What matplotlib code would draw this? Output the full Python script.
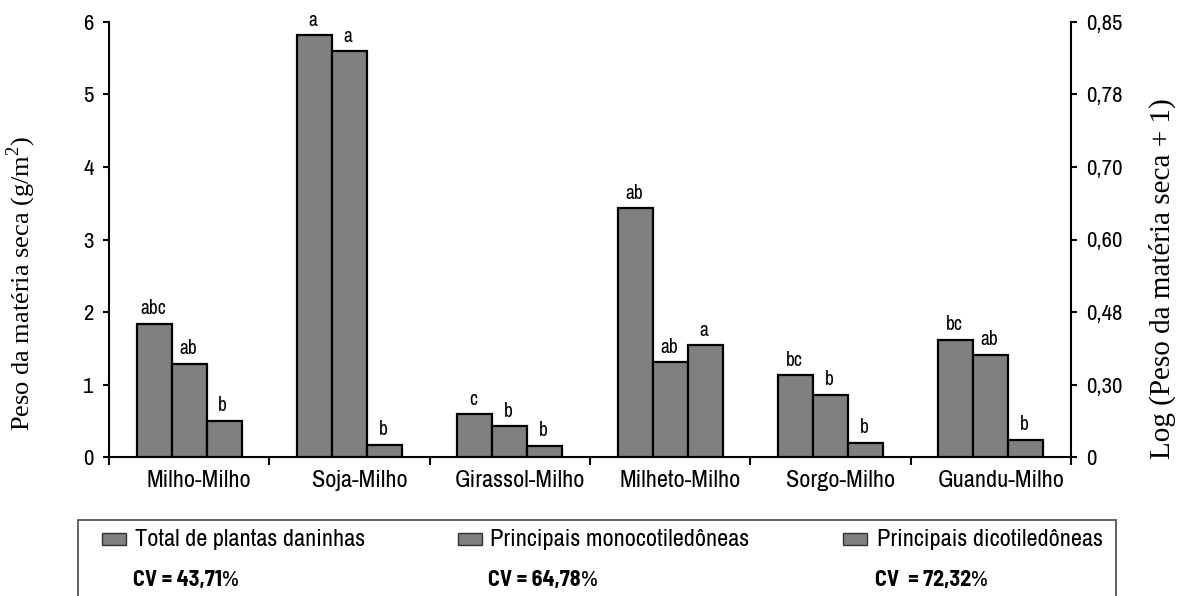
import matplotlib
matplotlib.use('Agg')
import matplotlib.pyplot as plt
from matplotlib.patches import Rectangle
from matplotlib.transforms import ScaledTranslation
import numpy as np

# data
categories = ['Milho-Milho', 'Soja-Milho', 'Girassol-Milho', 'Milheto-Milho', 'Sorgo-Milho', 'Guandu-Milho']
total = [1.84, 5.81, 0.59, 3.43, 1.13, 1.62]
mono = [1.29, 5.59, 0.43, 1.31, 0.86, 1.41]
dico = [0.50, 0.17, 0.155, 1.54, 0.20, 0.24]
letters_total = ['abc', 'a', 'c', 'ab', 'bc', 'bc']
letters_mono = ['ab', 'a', 'b', 'ab', 'b', 'ab']
letters_dico = ['b', 'b', 'b', 'a', 'b', 'b']
series_names = ['Total de plantas daninhas', 'Principais monocotiledôneas', 'Principais dicotiledôneas']
cv_values = ['CV = 43,71', 'CV = 64,78', 'CV  = 72,32']
left_ticks = [0, 1, 2, 3, 4, 5, 6]
right_labels = ['0', '0,30', '0,48', '0,60', '0,70', '0,78', '0,85']

SANS = ['Archivo Narrow', 'Roboto Condensed', 'DejaVu Sans']
SANS_BOLD = ['Barlow Semi Condensed', 'Roboto Condensed', 'DejaVu Sans']
SERIF = ['Liberation Serif', 'DejaVu Serif']
BAR_COLOR = '#808080'

plt.rcParams['mathtext.fontset'] = 'custom'
plt.rcParams['mathtext.rm'] = 'Liberation Serif'

W, H = 1178, 596
fig = plt.figure(figsize=(W / 100, H / 100), dpi=100)
ax = fig.add_axes([109 / W, (H - 457.3) / H, 962 / W, 435.6 / H])

x = np.arange(len(categories)) + 0.5
bw = 0.218
for offs, vals, labs in [(-bw, total, letters_total), (0, mono, letters_mono), (bw, dico, letters_dico)]:
    bars = ax.bar(x + offs, vals, width=bw, color=BAR_COLOR, edgecolor='black', linewidth=1.6, zorder=3)
    for b, lab in zip(bars, labs):
        ax.annotate(lab, (b.get_x() + b.get_width() / 2, b.get_height()),
                    xytext=(-1, 4), textcoords='offset points', ha='center', va='bottom',
                    fontsize=14, family=SANS)

ax.set_xlim(0, len(categories))
ax.set_ylim(0, 6)

for side in ['top', 'right']:
    ax.spines[side].set_visible(False)
for side in ['left', 'bottom']:
    ax.spines[side].set_linewidth(1.5)

# x axis: ticks at group boundaries, labels centred (a bit right, as in the source)
ax.set_xticks(np.arange(len(categories) + 1))
ax.set_xticklabels([])
ax.set_xticks(x, minor=True)
ax.set_xticklabels(categories, minor=True, fontsize=17.5, family=SANS)
ax.tick_params(axis='x', which='major', direction='out', length=6, width=1.5)
ax.tick_params(axis='x', which='minor', length=0, pad=9)
shift = ScaledTranslation(10 / 100, 0, fig.dpi_scale_trans)
for lab in ax.get_xticklabels(minor=True):
    lab.set_transform(lab.get_transform() + shift)

ax.set_yticks(left_ticks)
ax.set_yticklabels([str(t) for t in left_ticks], fontsize=16.5, family=SANS)
ax.tick_params(axis='y', direction='out', length=4, width=1.5, pad=7)
ax.set_ylabel('Peso da matéria seca (g/m$^{2}$)', fontsize=19, family=SERIF)
ax.yaxis.set_label_coords((38 - 109) / 962, (457.3 - 283) / 435.6)

# right axis: log labels on the same positions
ax2 = ax.twinx()
ax2.set_ylim(0, 6)
ax2.set_yticks(left_ticks)
ax2.set_yticklabels(right_labels, fontsize=16.5, family=SANS)
ax2.tick_params(axis='y', direction='out', length=4, width=1.5, pad=7)
for side in ['top', 'left', 'bottom']:
    ax2.spines[side].set_visible(False)
ax2.spines['right'].set_linewidth(1.5)
ax2.set_ylabel('Log (Peso da matéria seca + 1)', fontsize=21, family=SERIF)
ax2.yaxis.set_label_coords(1 + 78 / 962, (457.3 - 279) / 435.6)

# legend box at the bottom
fig.patches.append(Rectangle((78 / W, -0.02), (1116 - 78) / W, (H - 520) / H + 0.02,
                             transform=fig.transFigure, fill=False, edgecolor='#555555',
                             linewidth=1.3, clip_on=False))
patch_x = [102, 458, 843]
text_x = [135, 490, 877]
for px, tx, name, cv in zip(patch_x, text_x, series_names, cv_values):
    fig.patches.append(Rectangle((px / W, (H - 545) / H), 24 / W, 12 / H,
                                 transform=fig.transFigure, facecolor=BAR_COLOR,
                                 edgecolor='#333333', linewidth=1.0))
    fig.text(tx / W, (H - 539) / H, name, fontsize=17.5, family=SANS, va='center', ha='left')
    t = fig.text(tx / W - 2 / W, (H - 590) / H, cv, fontsize=16, family=SANS_BOLD,
                 fontweight='bold', va='bottom', ha='left')
    ax.annotate('%', xy=(1, 0), xycoords=t, va='bottom', ha='left', fontsize=16.5, family=SANS,
                annotation_clip=False)

fig.savefig('out.png', dpi=100)
